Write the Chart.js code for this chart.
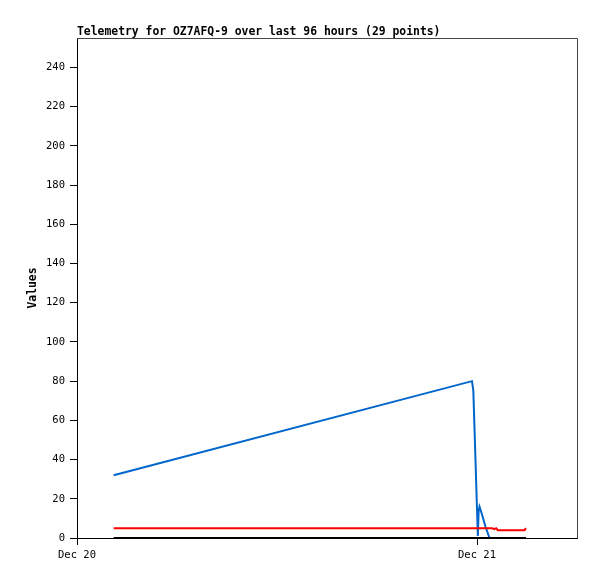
<!DOCTYPE html>
<html>
<head>
<meta charset="utf-8">
<script src="https://cdn.jsdelivr.net/npm/chart.js@4.4.1/dist/chart.umd.min.js"></script>
<style>
  html, body { margin: 0; padding: 0; background: #fff; }
  #wrap { width: 597px; height: 579px; position: relative; }
</style>
</head>
<body>
<div id="wrap"><canvas id="myChart" width="597" height="579"></canvas></div>
<script>
// hours since Dec 20 00:00
const tickHours = [0, 24];
const tickLabels = ["Dec 20", "Dec 21"];

const blueHours = [2.2, 23.7, 23.78, 24.05, 24.1, 24.15, 24.3, 24.5, 24.75];
const blueValues = [32, 80, 75, 1, 14, 16, 12, 6, 0];

const redHours = [2.2, 24.9, 25.05, 25.15, 25.25, 26.85, 26.94];
const redValues = [5, 5, 4.5, 5, 4, 4, 5];

const blackHours = [2.2, 26.94];
const blackValues = [0, 0];

const title = "Telemetry for OZ7AFQ-9 over last 96 hours (29 points)";
const mono = "'DejaVu Sans Mono', 'Liberation Mono', monospace";

function toPoints(xs, ys) {
  return xs.map((x, i) => ({ x: x, y: ys[i] }));
}

const frame = {
  id: "frame",
  afterDraw(chart) {
    const { ctx, chartArea } = chart;
    ctx.save();
    ctx.strokeStyle = "#444";
    ctx.lineWidth = 1;
    ctx.beginPath();
    ctx.moveTo(chartArea.left, chartArea.top + 0.5);
    ctx.lineTo(chartArea.right + 0.5, chartArea.top + 0.5);
    ctx.lineTo(chartArea.right + 0.5, chartArea.bottom);
    ctx.stroke();
    ctx.fillStyle = "#000";
    ctx.font = "bold 11.4px " + mono;
    ctx.textBaseline = "alphabetic";
    ctx.textAlign = "left";
    ctx.fillText(title, chartArea.left, chartArea.top - 3);
    ctx.restore();
  },
};

var ctx = document.getElementById("myChart").getContext("2d");
var myChart = new Chart(ctx, {
  type: "line",
  data: {
    datasets: [
      { data: toPoints(blackHours, blackValues), borderColor: "#000000", borderWidth: 2, pointRadius: 0, tension: 0 },
      { data: toPoints(redHours, redValues), borderColor: "#ff0000", borderWidth: 2, pointRadius: 0, tension: 0 },
      { data: toPoints(blueHours, blueValues), borderColor: "#0066cc", borderWidth: 2, pointRadius: 0, tension: 0 },
    ],
  },
  options: {
    responsive: false,
    animation: false,
    layout: { padding: { left: 26, right: 20, top: 38, bottom: 11 } },
    plugins: { legend: { display: false }, title: { display: false }, tooltip: { enabled: false } },
    scales: {
      x: {
        type: "linear",
        min: 0,
        max: 30,
        afterBuildTicks: (axis) => { axis.ticks = tickHours.map((v) => ({ value: v })); },
        afterFit: (axis) => { axis.height = 30; },
        ticks: {
          color: "#000",
          font: { family: mono, size: 10.5 },
          padding: 4,
          maxRotation: 0,
          callback: (v) => tickLabels[tickHours.indexOf(v)],
        },
        grid: { drawOnChartArea: false, drawTicks: true, tickLength: 7, color: "#000" },
        border: { display: true, color: "#000", width: 1 },
      },
      y: {
        min: 0,
        max: 255,
        afterBuildTicks: (axis) => {
          const t = [];
          for (let v = 0; v <= 240; v += 20) t.push({ value: v });
          axis.ticks = t;
        },
        afterFit: (axis) => { axis.width = 51; },
        ticks: { color: "#000", font: { family: mono, size: 10.5 }, padding: 5 },
        grid: { drawOnChartArea: false, drawTicks: true, tickLength: 7, color: "#000" },
        border: { display: true, color: "#000", width: 1 },
        title: { display: true, text: "Values", color: "#000", font: { family: mono, size: 11.4, weight: "bold" }, padding: 0 },
      },
    },
  },
  plugins: [frame],
});
</script>
</body>
</html>
